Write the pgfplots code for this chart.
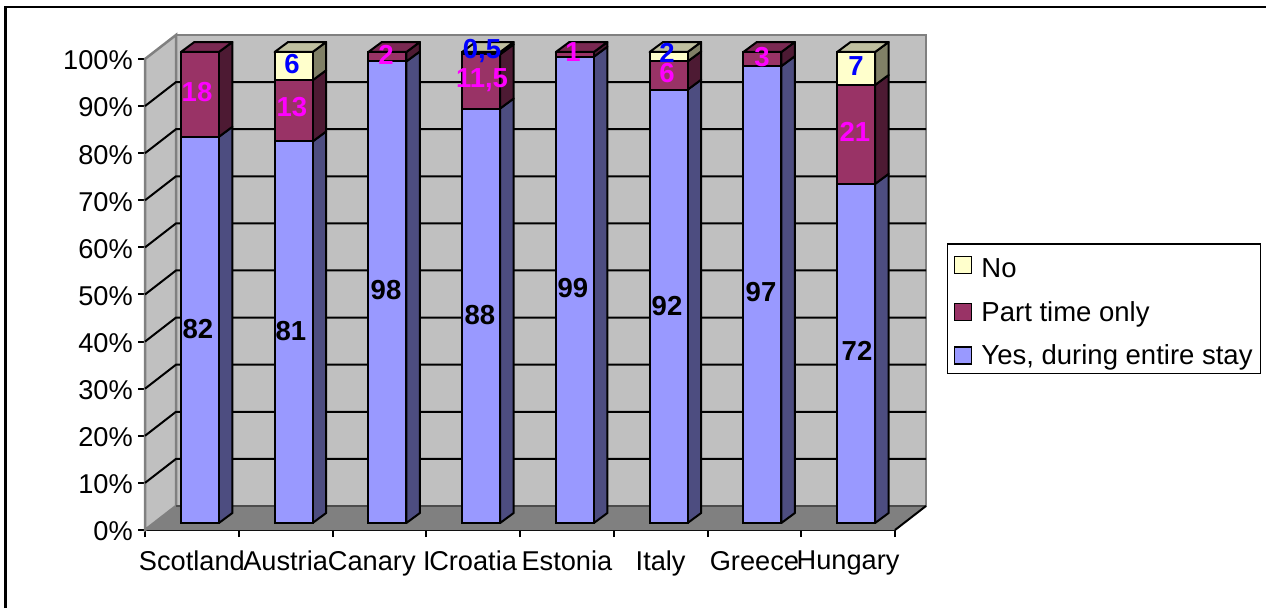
\documentclass[border=0pt]{standalone}
\usepackage{pgfplots}
\pgfplotsset{compat=1.18}
\usepackage{pgfplotstable}
\usepackage{fontspec}
\setmainfont{Liberation Sans}

\definecolor{yesfront}{HTML}{9999FF}
\definecolor{yesside}{HTML}{4D4D80}
\definecolor{partfront}{HTML}{993366}
\definecolor{partside}{HTML}{4D1A33}
\definecolor{parttop}{HTML}{7A2952}
\definecolor{nofront}{HTML}{FFFFCC}
\definecolor{noside}{HTML}{808066}
\definecolor{notop}{HTML}{C0C0A0}
\definecolor{wall}{HTML}{C0C0C0}
\definecolor{floorc}{HTML}{808080}
\definecolor{labmag}{HTML}{FF00FF}
\definecolor{labblue}{HTML}{0000FF}

% x  yes  part  no
\pgfplotstableread{
x   yes part no
0.5 82  18   0
1.5 81  13   6
2.5 98  2    0
3.5 88  11.5 0.5
4.5 99  1    0
5.5 92  6    2
6.5 97  3    0
7.5 72  21   7
}\shares

\pgfplotsset{
  face/.style={draw=black, line width=2pt, line join=round, xshift=8pt, yshift=7pt, forget plot},
  front/.style={ybar, stack plots=y, bar width=38pt, bar shift=0pt, draw=black, line width=2pt,
    xshift=8pt, yshift=7pt, forget plot},
  lab/.style={only marks, mark size=0pt, forget plot, point meta=explicit symbolic, nodes near coords,
    nodes near coords style={anchor=center, inner sep=0pt, font=\fontsize{27.5}{28}\selectfont\bfseries, text=#1}},
  legbox/.style={legend image code/.code={\draw[draw=black, line width=1.5pt, fill=#1] (0pt,-8.5pt) rectangle (17pt,8.5pt);
    \path[draw=none] (0pt,0pt) -- (25pt,0pt);}},
}

% side face of one stack segment: centre, low, high, colour
\newcommand\sideface[4]{%
  \pgfmathsetmacro\xa{#1+0.2027}\pgfmathsetmacro\xb{#1+0.3467}%
  \pgfmathsetmacro\ya{#2+2.12}\pgfmathsetmacro\yb{#3+2.12}%
  \edef\tmp{\noexpand\addplot[face, fill=#4] coordinates {(\xa,#2) (\xb,\ya) (\xb,\yb) (\xa,#3)} --cycle;}\tmp}
% top face of a stack: centre, colour
\newcommand\topface[2]{%
  \pgfmathsetmacro\xa{#1-0.2027}\pgfmathsetmacro\xb{#1+0.2027}%
  \pgfmathsetmacro\xc{#1+0.3467}\pgfmathsetmacro\xd{#1-0.0587}%
  \edef\tmp{\noexpand\addplot[face, fill=#2] coordinates {(\xa,100) (\xb,100) (\xc,102.12) (\xd,102.12)} --cycle;}\tmp}

\begin{document}
\begin{tikzpicture}[x=1pt,y=1pt]
\useasboundingbox (0,0) rectangle (1266,608);
\draw[black, line width=2.5pt] (5.5,0) -- (5.5,601) -- (1266,601);
\begin{axis}[
  at={(145pt,78pt)}, anchor=south west,
  scale only axis, width=750pt, height=471pt,
  xmin=0, xmax=8, ymin=0, ymax=100,
  clip=false,
  axis lines=left, axis line style={-, black, line width=2.5pt},
  tick style={black, line width=2pt}, tick align=outside, major tick length=7pt,
  xtick={0,...,8}, x tick label as interval,
  xticklabels={Scotland,Austria,Canary I,Croatia,Estonia,Italy,Greece,Hungary},
  ytick={0,10,...,100},
  yticklabel={\pgfmathprintnumber{\tick}\%},
  /pgf/number format/assume math mode=true,
  tick label style={font=\fontsize{27.2}{28}\selectfont, text=black},
  yticklabel style={inner sep=0pt, xshift=-5pt, yshift=-1.5pt},
  xticklabel style={inner sep=0pt, yshift=-14pt},
  legend style={at={(1.0693,0.331)}, anchor=south west, draw=black, line width=1.5pt,
    font=\fontsize{27.5}{28}\selectfont, row sep=18pt, inner xsep=6pt, inner ysep=5pt},
  legend cell align=left,
]
% walls and floor
\addplot[forget plot, fill=wall, draw=floorc, line width=2.5pt] coordinates {(0.3307,5.1) (8.3307,5.1) (8.3307,105.1) (0.3307,105.1)} --cycle;
\addplot[forget plot, fill=wall, draw=floorc, line width=2.5pt] coordinates {(0,0) (0.3307,5.1) (0.3307,105.1) (0,100)} --cycle;
\addplot[forget plot, fill=floorc, draw=none] coordinates {(0,0) (8,0) (8.3307,5.1) (0.3307,5.1)} --cycle;
\addplot[forget plot, draw=black!70, line width=2pt] coordinates {(0.3307,5.1) (8.3307,5.1)};
\addplot[forget plot, draw=black, line width=2pt] coordinates {(8,0) (8.3307,5.1)};
% gridlines
\pgfplotsinvokeforeach{10,20,...,90}{
  \pgfmathsetmacro\gy{#1+5.1}
  \edef\tmp{\noexpand\addplot[forget plot, draw=black, line width=2pt] coordinates {(0,#1) (0.3307,\gy) (8.3307,\gy)};}\tmp
}
% side and top faces
\sideface{0.5}{0}{82}{yesside}\sideface{0.5}{82}{100}{partside}\topface{0.5}{parttop}
\sideface{1.5}{0}{81}{yesside}\sideface{1.5}{81}{94}{partside}\sideface{1.5}{94}{100}{noside}\topface{1.5}{notop}
\sideface{2.5}{0}{98}{yesside}\sideface{2.5}{98}{100}{partside}\topface{2.5}{parttop}
\sideface{3.5}{0}{88}{yesside}\sideface{3.5}{88}{99.5}{partside}\sideface{3.5}{99.5}{100}{noside}\topface{3.5}{notop}
\sideface{4.5}{0}{99}{yesside}\sideface{4.5}{99}{100}{partside}\topface{4.5}{parttop}
\sideface{5.5}{0}{92}{yesside}\sideface{5.5}{92}{98}{partside}\sideface{5.5}{98}{100}{noside}\topface{5.5}{notop}
\sideface{6.5}{0}{97}{yesside}\sideface{6.5}{97}{100}{partside}\topface{6.5}{parttop}
\sideface{7.5}{0}{72}{yesside}\sideface{7.5}{72}{93}{partside}\sideface{7.5}{93}{100}{noside}\topface{7.5}{notop}
% front faces
\addplot[front, fill=yesfront] table[x=x, y=yes] {\shares};
\addplot[front, fill=partfront] table[x=x, y=part] {\shares};
\addplot[front, fill=nofront] table[x=x, y=no] {\shares};
% data labels
\addplot[lab=black] table[x=x, y=y, meta=t] {
x y t
0.565 42.7 82
1.557 42.3 81
2.571 51.0 98
3.573 45.6 88
4.565 51.4 99
5.568 47.6 92
6.571 50.5 97
7.595 38.0 72
};
\addplot[lab=labmag] table[x=x, y=y, meta=t] {
x y t
0.555 93.0 18
1.568 89.8 13
2.571 100.8 2
3.595 95.4 11,5
4.565 101.5 1
5.568 97.0 6
6.581 100.4 3
7.573 84.5 21
};
\addplot[lab=labblue] table[x=x, y=y, meta=t] {
x y t
1.568 98.9 6
3.595 101.7 0,5
5.568 101.3 2
7.584 98.5 7
};
\addlegendimage{legbox=nofront}\addlegendentry{\rule{0pt}{27pt}No}
\addlegendimage{legbox=partfront}\addlegendentry{Part time only}
\addlegendimage{legbox=yesfront}\addlegendentry{Yes, during entire stay}
\end{axis}
\end{tikzpicture}
\end{document}
